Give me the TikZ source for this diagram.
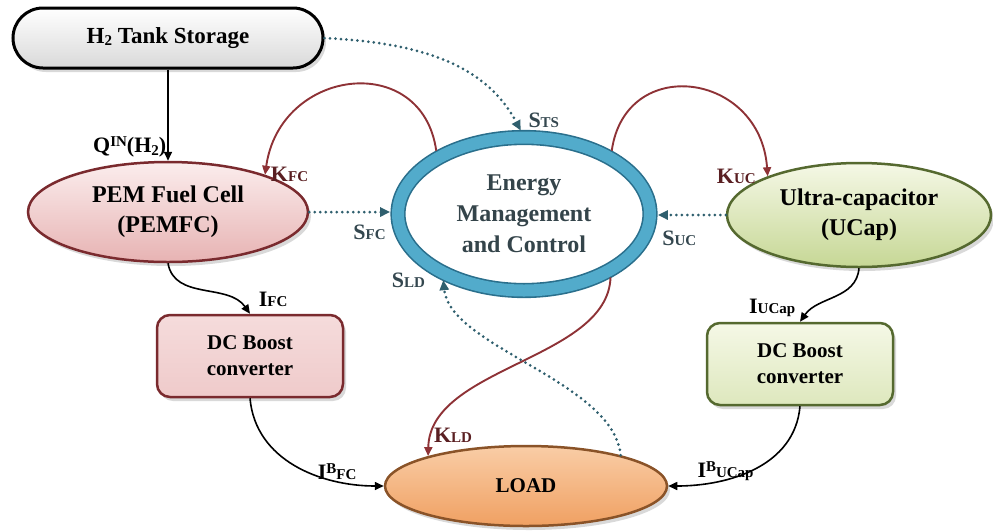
\documentclass[tikz,border=0pt]{standalone}
\usepackage{fontspec}
\setmainfont{Liberation Serif}[BoldFont={Liberation Serif Bold}]
\usetikzlibrary{shapes.geometric,arrows.meta,shadows}

\definecolor{ringteal}{HTML}{52ABCB}
\definecolor{ringedge}{HTML}{2A6F8C}
\definecolor{ringtext}{HTML}{34444A}
\definecolor{kred}{HTML}{8E3236}
\definecolor{klabel}{HTML}{5A1F22}
\definecolor{sdot}{HTML}{2F5F6E}
\definecolor{slabel}{HTML}{34474F}
\definecolor{fcedge}{HTML}{7A2A2E}
\definecolor{fctop}{HTML}{FBEDED}
\definecolor{fcbot}{HTML}{E7B3B3}
\definecolor{ucedge}{HTML}{55692F}
\definecolor{uctop}{HTML}{F5F8E6}
\definecolor{ucbot}{HTML}{C6D795}
\definecolor{ldedge}{HTML}{8A5328}
\definecolor{ldtop}{HTML}{F9CDA6}
\definecolor{ldbot}{HTML}{F0A062}

\newcommand{\lo}[1]{{\fontsize{15}{15}\selectfont #1}}
\newcommand{\hi}[1]{\raisebox{6pt}{\fontsize{15}{15}\selectfont #1}}
\newcommand{\dn}[1]{\raisebox{-2.5pt}{\fontsize{15}{15}\selectfont #1}}

\tikzset{
  unit/.style={draw, line width=2.5pt, align=center, inner sep=0pt,
    font=\fontsize{24}{30}\selectfont\bfseries,
    drop shadow={shadow xshift=3pt, shadow yshift=-4pt, opacity=0.3}},
  source/.style={unit, ellipse},
  conv/.style={unit, rectangle, rounded corners=13pt, minimum width=186pt,
    minimum height=82pt, font=\fontsize{21}{26}\selectfont\bfseries},
  flow/.style={line width=1.6pt, -{Triangle[length=9pt,width=8pt]}},
  cmd/.style={flow, draw=kred, line width=1.9pt, shorten <=7pt},
  sig/.style={draw=sdot, line width=3pt, line cap=round,
    dash pattern=on 0pt off 5.5pt, -{Triangle[length=10pt,width=9pt]}},
  lbl/.style={font=\fontsize{22}{22}\selectfont\bfseries, inner sep=1pt},
  klbl/.style={lbl, text=klabel},
  slbl/.style={lbl, text=slabel}
}

\begin{document}
\begin{tikzpicture}[x=1pt,y=1pt]
\useasboundingbox (0,0) rectangle (993,-531);

% blocks
\node[unit, rectangle, rounded corners=30pt, minimum width=310pt, minimum height=60pt,
  line width=3pt, top color=white, bottom color=gray!30,
  font=\fontsize{23}{23}\selectfont\bfseries] (tank) at (168,-38) {H\dn{2} Tank Storage};
\node[source, draw=fcedge, top color=fctop, bottom color=fcbot,
  minimum width=280pt, minimum height=100pt] (pemfc) at (168,-212) {PEM Fuel Cell\\(PEMFC)};
\node[source, draw=ucedge, top color=uctop, bottom color=ucbot,
  minimum width=264pt, minimum height=104pt] (ucap) at (859,-215) {Ultra-capacitor\\(UCap)};
\node[ellipse, draw=ringedge, line width=1.6pt, double=ringteal, double distance=12pt,
  minimum width=252pt, minimum height=153pt, align=center, text=ringtext,
  font=\fontsize{24}{31}\selectfont\bfseries] (ems) at (524,-214) {Energy\\Management\\and Control};
\node[conv, draw=fcedge, top color=fctop!70!fcbot, bottom color=fcbot!60!fctop] (dcl) at (250,-356) {DC Boost\\converter};
\node[conv, draw=ucedge, top color=uctop, bottom color=ucbot!50!uctop] (dcr) at (800,-364) {DC Boost\\converter};
\node[source, draw=ldedge, top color=ldtop, bottom color=ldbot,
  minimum width=282pt, minimum height=80pt, font=\fontsize{21}{26}\selectfont\bfseries] (load) at (526,-486) {LOAD};

% power flow
\draw[flow] (tank) -- (pemfc) node[lbl, pos=0.85, left] {Q\hi{IN}(H\dn{2})};
\draw[flow] (pemfc.south) to[out=-80, in=125]
  node[lbl, pos=1, anchor=south west, xshift=7pt, yshift=5pt] {I\lo{FC}} (dcl.north);
\draw[flow] (ucap.south) to[out=-95, in=55]
  node[lbl, pos=1, anchor=south east, xshift=-3pt, yshift=3pt] {I\lo{UCap}} (dcr.north);
\draw[flow] (dcl.south) to[out=-85, in=180]
  node[lbl, pos=0.75, above] {I\hi{B}\lo{FC}} (load.west);
\draw[flow] (dcr.south) to[out=-95, in=0]
  node[lbl, pos=0.75, above, xshift=12pt] {I\hi{B}\lo{UCap}} (load.east);

% control
\draw[cmd] (ems.147) to[out=98, in=82, looseness=1.6]
  node[klbl, pos=1, anchor=west, xshift=4pt] {K\lo{FC}} (pemfc.21);
\draw[cmd] (ems.33) to[out=82, in=94, looseness=1.7]
  node[klbl, pos=1, anchor=east, xshift=-10pt] {K\lo{UC}} (ucap.157);
\draw[cmd] (ems.327) to[out=-92, in=89, looseness=0.88]
  node[klbl, pos=1, anchor=south west, xshift=4pt, yshift=12pt] {K\lo{LD}} (load.163);

% signals
\draw[sig, shorten >=7pt] (tank.east) to[out=-3, in=118]
  node[slbl, pos=1, anchor=south west, xshift=2pt, yshift=6pt] {S\lo{TS}} (ems.north);
\draw[sig, shorten >=7pt] (pemfc.east) -- (pemfc.east -| ems.west)
  node[slbl, pos=1, anchor=north east, xshift=-9pt, yshift=-10pt] {S\lo{FC}};
\draw[sig, shorten >=7pt] (ucap.west) -- (ucap.west -| ems.east)
  node[slbl, pos=1, anchor=north west, xshift=9pt, yshift=-13pt] {S\lo{UC}};
\draw[sig, shorten >=7pt] (load.18) to[out=96, in=-84, looseness=0.75]
  node[slbl, pos=1, anchor=east, xshift=-15pt, yshift=-7pt] {S\lo{LD}} (ems.216);
\end{tikzpicture}
\end{document}
